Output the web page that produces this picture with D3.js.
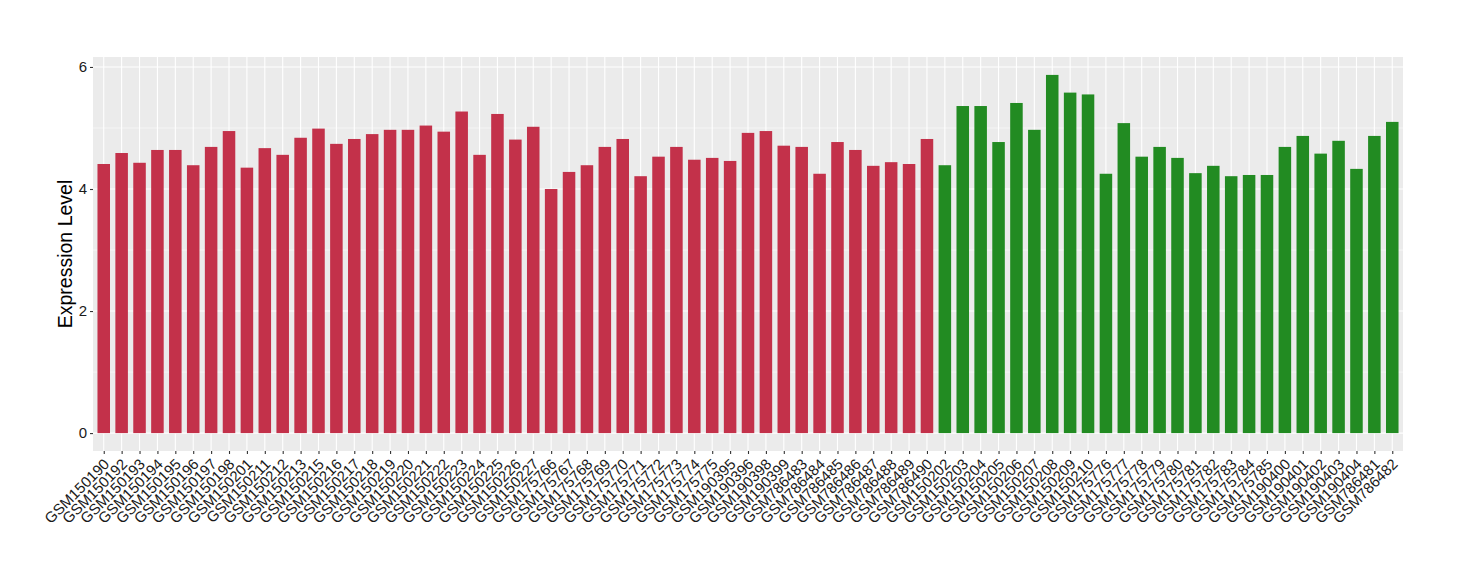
<!DOCTYPE html>
<html>
<head>
<meta charset="utf-8">
<script src="https://cdn.jsdelivr.net/npm/d3@7"></script>
<style>
  html, body { margin: 0; padding: 0; background: #fff; }
  svg { display: block; font-family: "Liberation Sans", Arial, Helvetica, sans-serif; }
</style>
</head>
<body>
<svg id="chart" width="1460" height="580"></svg>
<script>
const samplesA = ["GSM150190","GSM150192","GSM150193","GSM150194","GSM150195","GSM150196","GSM150197","GSM150198","GSM150201","GSM150211","GSM150212","GSM150213","GSM150215","GSM150216","GSM150217","GSM150218","GSM150219","GSM150220","GSM150221","GSM150222","GSM150223","GSM150224","GSM150225","GSM150226","GSM150227","GSM175766","GSM175767","GSM175768","GSM175769","GSM175770","GSM175771","GSM175772","GSM175773","GSM175774","GSM175775","GSM190395","GSM190396","GSM190398","GSM190399","GSM786483","GSM786484","GSM786485","GSM786486","GSM786487","GSM786488","GSM786489","GSM786490"];
const valuesA = [4.41,4.59,4.43,4.64,4.64,4.39,4.69,4.95,4.35,4.67,4.56,4.84,4.99,4.74,4.82,4.90,4.97,4.97,5.04,4.94,5.27,4.56,5.23,4.81,5.02,4.00,4.28,4.39,4.69,4.82,4.21,4.53,4.69,4.48,4.51,4.46,4.92,4.95,4.71,4.69,4.25,4.77,4.64,4.38,4.44,4.41,4.82];
const samplesB = ["GSM150202","GSM150203","GSM150204","GSM150205","GSM150206","GSM150207","GSM150208","GSM150209","GSM150210","GSM175776","GSM175777","GSM175778","GSM175779","GSM175780","GSM175781","GSM175782","GSM175783","GSM175784","GSM175785","GSM190400","GSM190401","GSM190402","GSM190403","GSM190404","GSM786481","GSM786482"];
const valuesB = [4.39,5.36,5.36,4.77,5.41,4.97,5.87,5.58,5.55,4.25,5.08,4.53,4.69,4.51,4.26,4.38,4.21,4.23,4.23,4.69,4.87,4.58,4.79,4.33,4.87,5.10];
const yTicks = [0, 2, 4, 6];
const yMinor = [1, 3, 5];
const colorA = "#C3314A";
const colorB = "#228B22";
const yTitle = "Expression Level";

const data = samplesA.map((s, i) => ({ name: s, value: valuesA[i], color: colorA }))
  .concat(samplesB.map((s, i) => ({ name: s, value: valuesB[i], color: colorB })));

const svg = d3.select("#chart");
const panel = { left: 93, right: 1403, top: 57, bottom: 451 };

const n = data.length;
const step = (panel.right - panel.left) / (n - 1 + 1.2);
const x = d3.scalePoint()
  .domain(data.map(d => d.name))
  .range([panel.left + 0.6 * step, panel.right - 0.6 * step]);
const barW = step * 0.7;

const maxV = d3.max(data, d => d.value);
const pad = maxV * 0.05;
const y = d3.scaleLinear().domain([-pad, maxV + pad]).range([panel.bottom, panel.top]);

// panel background
svg.append("rect")
  .attr("x", panel.left).attr("y", panel.top)
  .attr("width", panel.right - panel.left).attr("height", panel.bottom - panel.top)
  .attr("fill", "#EBEBEB");

// minor grid
svg.append("g").selectAll("line").data(yMinor).join("line")
  .attr("x1", panel.left).attr("x2", panel.right)
  .attr("y1", d => y(d)).attr("y2", d => y(d))
  .attr("stroke", "#fff").attr("stroke-width", 0.55);

// major grid
svg.append("g").selectAll("line").data(yTicks).join("line")
  .attr("x1", panel.left).attr("x2", panel.right)
  .attr("y1", d => y(d)).attr("y2", d => y(d))
  .attr("stroke", "#fff").attr("stroke-width", 1.1);
svg.append("g").selectAll("line").data(data).join("line")
  .attr("x1", d => x(d.name)).attr("x2", d => x(d.name))
  .attr("y1", panel.top).attr("y2", panel.bottom)
  .attr("stroke", "#fff").attr("stroke-width", 1.1);

// bars
svg.append("g").selectAll("rect").data(data).join("rect")
  .attr("x", d => x(d.name) - barW / 2)
  .attr("width", barW)
  .attr("y", d => y(d.value))
  .attr("height", d => y(0) - y(d.value))
  .attr("fill", d => d.color);

// y axis
const yAxis = d3.axisLeft(y).tickValues(yTicks).tickSize(3).tickPadding(3).tickFormat(d3.format("d"));
const gy = svg.append("g").attr("transform", `translate(${panel.left},0)`).call(yAxis);
gy.select(".domain").remove();
gy.selectAll(".tick line").attr("stroke", "#333").attr("stroke-width", 1.1);
gy.selectAll(".tick text").attr("fill", "#1a1a1a").attr("font-size", 15)
  .attr("font-family", "Liberation Sans, Arial, sans-serif");

// x axis
const xAxis = d3.axisBottom(x).tickSize(3).tickPadding(2);
const gx = svg.append("g").attr("transform", `translate(0,${panel.bottom})`).call(xAxis);
gx.select(".domain").remove();
gx.selectAll(".tick line").attr("stroke", "#333").attr("stroke-width", 1.1);
gx.selectAll(".tick text")
  .attr("fill", "#1a1a1a").attr("font-size", 15)
  .attr("font-family", "Liberation Sans, Arial, sans-serif")
  .attr("text-anchor", "end")
  .attr("dy", null)
  .attr("y", 0)
  .attr("transform", "translate(6,14) rotate(-45)");

// y title
svg.append("text")
  .attr("transform", `translate(72,${(panel.top + panel.bottom) / 2}) rotate(-90)`)
  .attr("text-anchor", "middle")
  .attr("font-size", 19.5)
  .attr("fill", "#000")
  .text(yTitle);
</script>
</body>
</html>
